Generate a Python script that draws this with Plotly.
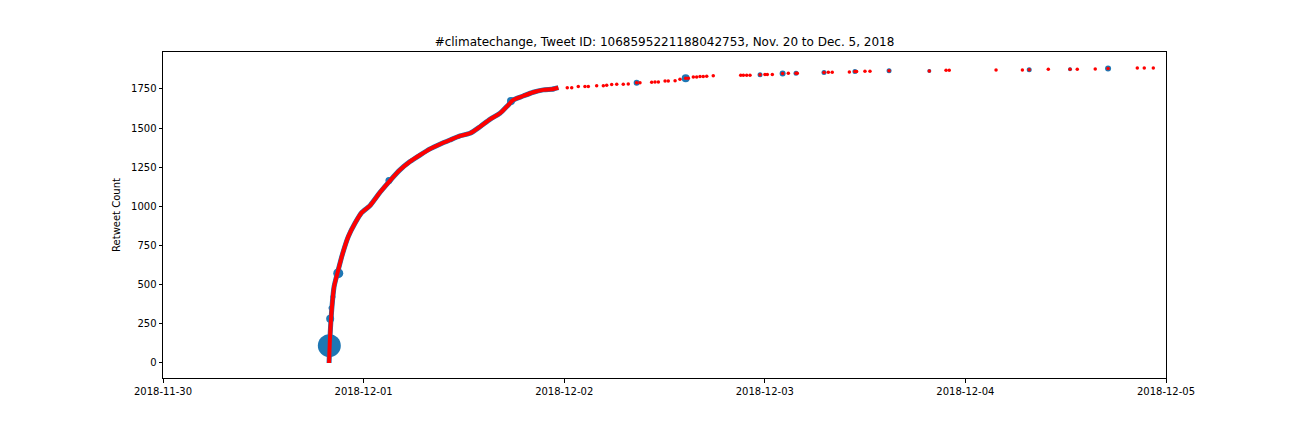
import plotly.graph_objects as go

# Dense part of the cumulative retweet curve
dense_times = [
    "2018-11-30 19:52", "2018-11-30 19:59", "2018-11-30 20:11", "2018-11-30 20:28",
    "2018-11-30 20:58", "2018-11-30 21:30", "2018-11-30 22:10", "2018-11-30 22:58",
    "2018-11-30 23:46", "2018-12-01 00:46", "2018-12-01 01:58", "2018-12-01 03:10",
    "2018-12-01 04:21", "2018-12-01 05:33", "2018-12-01 06:45", "2018-12-01 07:57",
    "2018-12-01 09:08", "2018-12-01 10:20", "2018-12-01 11:32", "2018-12-01 12:44",
    "2018-12-01 13:56", "2018-12-01 15:07", "2018-12-01 16:19", "2018-12-01 17:19",
    "2018-12-01 17:55", "2018-12-01 19:06", "2018-12-01 20:18", "2018-12-01 21:30",
    "2018-12-01 22:42", "2018-12-01 23:18",
]
dense_counts = [
    0, 168, 338, 487, 594, 700, 807, 892, 960, 1005, 1090, 1165, 1233, 1286, 1328,
    1367, 1397, 1424, 1450, 1467, 1509, 1556, 1595, 1648, 1680, 1705, 1729, 1744,
    1750, 1758,
]

# Sparse later retweets
sparse_times = [
    "2018-12-02 00:22", "2018-12-02 00:54", "2018-12-02 01:41", "2018-12-02 02:29",
    "2018-12-02 02:53", "2018-12-02 03:53", "2018-12-02 04:41", "2018-12-02 05:05",
    "2018-12-02 05:41", "2018-12-02 06:17", "2018-12-02 07:04", "2018-12-02 07:40",
    "2018-12-02 08:40", "2018-12-02 09:04", "2018-12-02 10:28", "2018-12-02 10:52",
    "2018-12-02 11:16", "2018-12-02 12:04", "2018-12-02 12:27", "2018-12-02 13:16",
    "2018-12-02 13:51", "2018-12-02 14:32", "2018-12-02 14:51", "2018-12-02 15:27",
    "2018-12-02 15:51", "2018-12-02 16:15", "2018-12-02 16:38", "2018-12-02 17:03",
    "2018-12-02 17:50", "2018-12-02 21:07", "2018-12-02 21:26", "2018-12-02 21:50",
    "2018-12-02 22:14", "2018-12-02 23:26", "2018-12-03 00:01", "2018-12-03 00:18",
    "2018-12-03 00:54", "2018-12-03 02:08", "2018-12-03 02:49", "2018-12-03 03:44",
    "2018-12-03 03:53", "2018-12-03 07:05", "2018-12-03 07:36", "2018-12-03 08:04",
    "2018-12-03 10:07", "2018-12-03 10:47", "2018-12-03 10:59", "2018-12-03 11:59",
    "2018-12-03 12:35", "2018-12-03 14:52", "2018-12-03 19:41", "2018-12-03 21:41",
    "2018-12-03 22:04", "2018-12-04 03:40", "2018-12-04 06:49", "2018-12-04 07:38",
    "2018-12-04 09:55", "2018-12-04 12:31", "2018-12-04 13:23", "2018-12-04 15:32",
    "2018-12-04 17:04", "2018-12-04 20:34", "2018-12-04 21:24", "2018-12-04 22:29",
]
sparse_counts = [
    1758, 1758, 1765, 1765, 1765, 1771, 1771, 1773, 1778, 1780, 1780, 1782,
    1790, 1790, 1793, 1795, 1795, 1801, 1801, 1803, 1812, 1818, 1818, 1827,
    1827, 1829, 1829, 1831, 1835, 1837, 1837, 1837, 1837, 1841, 1843, 1843,
    1843, 1848, 1850, 1850, 1850, 1855, 1857, 1857, 1859, 1861, 1861, 1863,
    1863, 1867, 1865, 1869, 1869, 1871, 1871, 1873, 1876, 1876, 1876, 1878,
    1880, 1884, 1884, 1884,
]

# Retweets with a larger blue marker (marker size ~ account reach)
blue_times = [
    "2018-11-30 19:54", "2018-11-30 20:00", "2018-11-30 20:06", "2018-11-30 20:20",
    "2018-11-30 20:58", "2018-12-01 03:02", "2018-12-01 17:38", "2018-12-01 22:42",
    "2018-12-02 08:40", "2018-12-02 14:32", "2018-12-02 23:26", "2018-12-03 02:08",
    "2018-12-03 03:44", "2018-12-03 07:05", "2018-12-03 10:47", "2018-12-03 14:52",
    "2018-12-03 19:41", "2018-12-04 07:38", "2018-12-04 12:31", "2018-12-04 17:04",
]
blue_counts = [
    110, 282, 351, 423, 573, 1165, 1673, 1750, 1790, 1818, 1841, 1848,
    1850, 1855, 1861, 1867, 1865, 1873, 1876, 1880,
]
blue_sizes = [23, 8, 5, 5, 10, 7, 8, 5, 6, 8, 5, 6, 5, 5, 5, 5, 4, 5, 4, 6]

x_ticks = ["2018-11-30", "2018-12-01", "2018-12-02", "2018-12-03", "2018-12-04", "2018-12-05"]
y_ticks = [0, 250, 500, 750, 1000, 1250, 1500, 1750]

BLUE = "#1f77b4"
RED = "#ff0000"
FONT = "DejaVu Sans"

fig = go.Figure()
fig.add_trace(go.Scatter(x=dense_times, y=dense_counts, mode="lines",
                         line=dict(color=BLUE, width=5, shape="spline", smoothing=0.6),
                         hoverinfo="skip", showlegend=False))
fig.add_trace(go.Scatter(x=blue_times, y=blue_counts, mode="markers",
                         marker=dict(color=BLUE, size=blue_sizes, opacity=1, line=dict(width=0)),
                         showlegend=False))
fig.add_trace(go.Scatter(x=dense_times, y=dense_counts, mode="lines",
                         line=dict(color=RED, width=4, shape="spline", smoothing=0.6),
                         showlegend=False))
fig.add_trace(go.Scatter(x=sparse_times, y=sparse_counts, mode="markers",
                         marker=dict(color=RED, size=3.5, opacity=1, line=dict(width=0)),
                         showlegend=False))

axis_common = dict(showline=True, linecolor="black", linewidth=1, mirror=True,
                   ticks="outside", ticklen=3.5, tickwidth=1, tickcolor="black",
                   showgrid=False, zeroline=False,
                   tickfont=dict(family=FONT, size=10, color="black"))

# The page body adds an 8px offset, so margins are adjusted accordingly
fig.update_layout(
    width=1296, height=432,
    margin=dict(l=155, r=138, t=44, b=62),
    paper_bgcolor="white", plot_bgcolor="white",
    title=dict(text="#climatechange, Tweet ID: 1068595221188042753, Nov. 20 to Dec. 5, 2018",
               x=(155 + 1158) / 2 / 1296, xanchor="center", xref="container",
               y=1 - 34 / 432, yanchor="middle", yref="container",
               font=dict(family=FONT, size=12, color="black")),
    xaxis=dict(type="date", range=["2018-11-30", "2018-12-05"],
               tickvals=x_ticks, ticktext=x_ticks, **axis_common),
    yaxis=dict(range=[-96, 1986], tickvals=y_ticks,
               title=dict(text="Retweet Count", standoff=8,
                          font=dict(family=FONT, size=10, color="black")),
               **axis_common),
)

fig.write_html("out.html")
